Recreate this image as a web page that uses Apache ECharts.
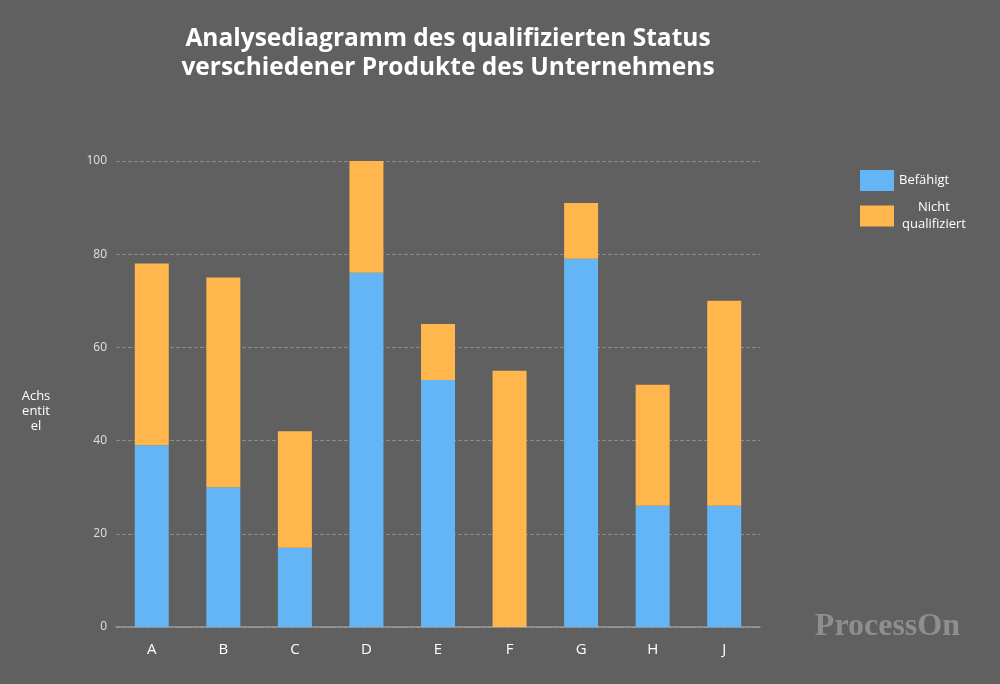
<!DOCTYPE html>
<html>
<head>
<meta charset="utf-8">
<title>Produktstatus</title>
<script src="https://cdn.jsdelivr.net/npm/echarts@6/dist/echarts.min.js"></script>
<style>
  html, body { margin: 0; padding: 0; background: #606060; }
  #main { width: 1000px; height: 684px; }
</style>
</head>
<body>
<div id="main"></div>
<script>
"use strict"
// Produkte (kein I in der Vorlage)
const categories = ['A', 'B', 'C', 'D', 'E', 'F', 'G', 'H', 'J'];
// Werte
const befaehigt = [39, 30, 17, 76, 53, 0, 79, 26, 26];
const nichtQualifiziert = [39, 45, 25, 24, 12, 55, 12, 26, 44];
const yTicks = [0, 20, 40, 60, 80, 100];

const chart = echarts.init(document.getElementById('main'));

const option = {
    backgroundColor: '#606060',
    textStyle: {
        fontFamily: 'Open Sans, sans-serif'
    },
    title: {
        text: 'Analysediagramm des qualifizierten Status\nverschiedener Produkte des Unternehmens',
        left: 443,
        top: 20,
        textAlign: 'center',
        textStyle: {
            color: '#ffffff',
            fontSize: 24.5,
            fontWeight: 'bold',
            lineHeight: 29,
            fontFamily: 'Open Sans, sans-serif'
        }
    },
    legend: {
        orient: 'vertical',
        left: 855,
        top: 165,
        itemWidth: 34,
        itemHeight: 21,
        itemGap: 10,
        icon: 'rect',
        data: ['Befähigt', 'Nicht qualifiziert'],
        formatter: function (name) {
            if (name == 'Nicht qualifiziert') {
                return '{c|Nicht}\n{c|qualifiziert}';
            }
            return name;
        },
        textStyle: {
            color: '#ffffff',
            fontSize: 13,
            rich: {
                c: {
                    color: '#ffffff',
                    fontSize: 13,
                    width: 70,
                    align: 'center',
                    lineHeight: 17
                }
            }
        }
    },
    grid: {
        left: 116,
        right: 240,
        top: 161,
        bottom: 57
    },
    xAxis: {
        type: 'category',
        data: categories,
        axisTick: { show: false },
        axisLine: { lineStyle: { color: '#9a9a9a', width: 1.5 } },
        axisLabel: {
            color: '#ffffff',
            fontSize: 15,
            margin: 15
        }
    },
    yAxis: {
        type: 'value',
        min: yTicks[0],
        max: yTicks[yTicks.length - 1],
        interval: 20,
        axisLine: { show: false },
        axisTick: { show: false },
        axisLabel: {
            color: '#e0e0e0',
            fontSize: 12,
            margin: 9
        },
        splitLine: {
            lineStyle: {
                color: '#8c8c8c',
                type: 'dashed'
            }
        }
    },
    series: [
        {
            name: 'Befähigt',
            type: 'bar',
            stack: 'gesamt',
            barWidth: 34,
            data: befaehigt,
            itemStyle: { color: '#64b5f6' }
        },
        {
            name: 'Nicht qualifiziert',
            type: 'bar',
            stack: 'gesamt',
            barWidth: 34,
            data: nichtQualifiziert,
            itemStyle: { color: '#ffb74d' }
        }
    ],
    graphic: [
        {
            // Achsentitel, wie im Original umbrochen
            type: 'text',
            x: 36,
            y: 389,
            style: {
                text: 'Achs\nentit\nel',
                fill: '#ffffff',
                font: '13px "Open Sans", sans-serif',
                lineHeight: 15,
                align: 'center',
                verticalAlign: 'top'
            }
        },
        {
            type: 'text',
            right: 40,
            top: 611,
            style: {
                text: 'ProcessOn',
                fill: '#8e8e8e',
                font: 'bold 32px "Liberation Serif", serif'
            }
        }
    ]
};

chart.setOption(option);
</script>
</body>
</html>
